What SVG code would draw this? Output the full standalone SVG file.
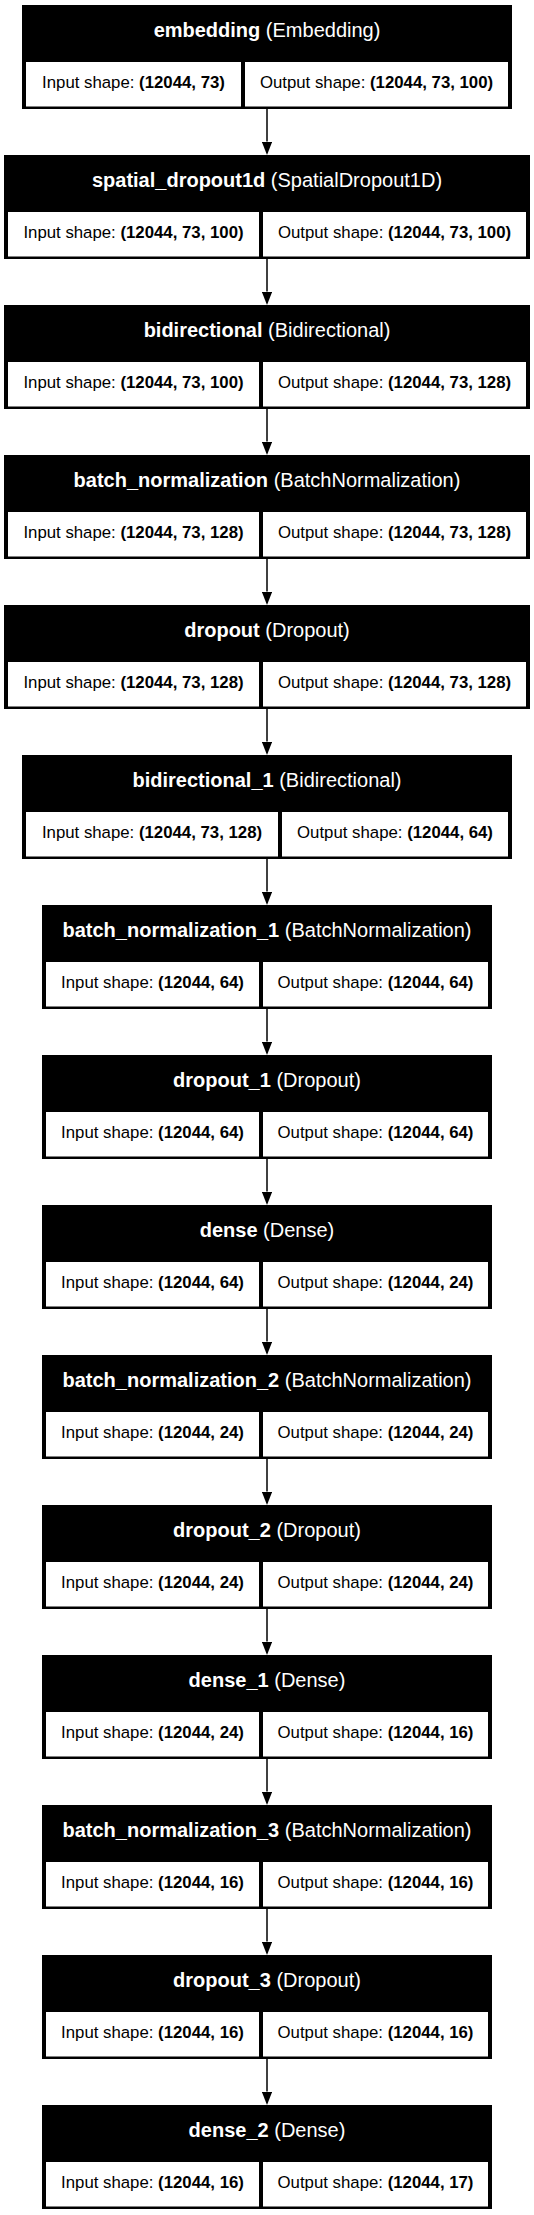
<svg xmlns="http://www.w3.org/2000/svg" width="534" height="2215" viewBox="0 0 534 2215">
<style>
.box{fill:#000}
.cell{fill:#fff}
.hd{font-family:"Liberation Sans",Arial,sans-serif;font-size:20px;fill:#fff;text-anchor:middle}
.ct{font-family:"Liberation Sans",Arial,sans-serif;font-size:16.8px;fill:#000;text-anchor:middle}
.b{font-weight:bold}
.edge{stroke:#000;stroke-width:1.5;fill:none}
</style>
<defs>
<marker id="ah" viewBox="0 0 13.5 10.5" refX="0" refY="5.25" markerWidth="13.5" markerHeight="10.5" markerUnits="userSpaceOnUse" orient="auto">
<path d="M0,0 L13.5,5.25 L0,10.5 z" fill="#000"/>
</marker>
</defs>
<g id="connectors">
<line class="edge" x1="267" y1="109" x2="267" y2="141.5" marker-end="url(#ah)"/>
<line class="edge" x1="267" y1="259" x2="267" y2="291.5" marker-end="url(#ah)"/>
<line class="edge" x1="267" y1="409" x2="267" y2="441.5" marker-end="url(#ah)"/>
<line class="edge" x1="267" y1="559" x2="267" y2="591.5" marker-end="url(#ah)"/>
<line class="edge" x1="267" y1="709" x2="267" y2="741.5" marker-end="url(#ah)"/>
<line class="edge" x1="267" y1="859" x2="267" y2="891.5" marker-end="url(#ah)"/>
<line class="edge" x1="267" y1="1009" x2="267" y2="1041.5" marker-end="url(#ah)"/>
<line class="edge" x1="267" y1="1159" x2="267" y2="1191.5" marker-end="url(#ah)"/>
<line class="edge" x1="267" y1="1309" x2="267" y2="1341.5" marker-end="url(#ah)"/>
<line class="edge" x1="267" y1="1459" x2="267" y2="1491.5" marker-end="url(#ah)"/>
<line class="edge" x1="267" y1="1609" x2="267" y2="1641.5" marker-end="url(#ah)"/>
<line class="edge" x1="267" y1="1759" x2="267" y2="1791.5" marker-end="url(#ah)"/>
<line class="edge" x1="267" y1="1909" x2="267" y2="1941.5" marker-end="url(#ah)"/>
<line class="edge" x1="267" y1="2059" x2="267" y2="2091.5" marker-end="url(#ah)"/>
</g>
<g id="embedding">
<rect class="box" x="22" y="5" width="490" height="104"/>
<text class="hd" x="267" y="36.5"><tspan class="b">embedding</tspan> (Embedding)</text>
<rect class="cell" x="26" y="62" width="215" height="44.5"/>
<rect class="cell" x="245" y="62" width="263" height="44.5"/>
<text class="ct" x="133.5" y="88">Input shape: <tspan class="b">(12044, 73)</tspan></text>
<text class="ct" x="376.5" y="88">Output shape: <tspan class="b">(12044, 73, 100)</tspan></text>
</g>
<g id="spatial_dropout1d">
<rect class="box" x="4" y="155" width="526" height="104"/>
<text class="hd" x="267" y="186.5"><tspan class="b">spatial_dropout1d</tspan> (SpatialDropout1D)</text>
<rect class="cell" x="8" y="212" width="251" height="44.5"/>
<rect class="cell" x="263" y="212" width="263" height="44.5"/>
<text class="ct" x="133.5" y="238">Input shape: <tspan class="b">(12044, 73, 100)</tspan></text>
<text class="ct" x="394.5" y="238">Output shape: <tspan class="b">(12044, 73, 100)</tspan></text>
</g>
<g id="bidirectional">
<rect class="box" x="4" y="305" width="526" height="104"/>
<text class="hd" x="267" y="336.5"><tspan class="b">bidirectional</tspan> (Bidirectional)</text>
<rect class="cell" x="8" y="362" width="251" height="44.5"/>
<rect class="cell" x="263" y="362" width="263" height="44.5"/>
<text class="ct" x="133.5" y="388">Input shape: <tspan class="b">(12044, 73, 100)</tspan></text>
<text class="ct" x="394.5" y="388">Output shape: <tspan class="b">(12044, 73, 128)</tspan></text>
</g>
<g id="batch_normalization">
<rect class="box" x="4" y="455" width="526" height="104"/>
<text class="hd" x="267" y="486.5"><tspan class="b">batch_normalization</tspan> (BatchNormalization)</text>
<rect class="cell" x="8" y="512" width="251" height="44.5"/>
<rect class="cell" x="263" y="512" width="263" height="44.5"/>
<text class="ct" x="133.5" y="538">Input shape: <tspan class="b">(12044, 73, 128)</tspan></text>
<text class="ct" x="394.5" y="538">Output shape: <tspan class="b">(12044, 73, 128)</tspan></text>
</g>
<g id="dropout">
<rect class="box" x="4" y="605" width="526" height="104"/>
<text class="hd" x="267" y="636.5"><tspan class="b">dropout</tspan> (Dropout)</text>
<rect class="cell" x="8" y="662" width="251" height="44.5"/>
<rect class="cell" x="263" y="662" width="263" height="44.5"/>
<text class="ct" x="133.5" y="688">Input shape: <tspan class="b">(12044, 73, 128)</tspan></text>
<text class="ct" x="394.5" y="688">Output shape: <tspan class="b">(12044, 73, 128)</tspan></text>
</g>
<g id="bidirectional_1">
<rect class="box" x="22" y="755" width="490" height="104"/>
<text class="hd" x="267" y="786.5"><tspan class="b">bidirectional_1</tspan> (Bidirectional)</text>
<rect class="cell" x="26" y="812" width="252" height="44.5"/>
<rect class="cell" x="282" y="812" width="226" height="44.5"/>
<text class="ct" x="152" y="838">Input shape: <tspan class="b">(12044, 73, 128)</tspan></text>
<text class="ct" x="395" y="838">Output shape: <tspan class="b">(12044, 64)</tspan></text>
</g>
<g id="batch_normalization_1">
<rect class="box" x="42" y="905" width="450" height="104"/>
<text class="hd" x="267" y="936.5"><tspan class="b">batch_normalization_1</tspan> (BatchNormalization)</text>
<rect class="cell" x="46" y="962" width="213" height="44.5"/>
<rect class="cell" x="263" y="962" width="225" height="44.5"/>
<text class="ct" x="152.5" y="988">Input shape: <tspan class="b">(12044, 64)</tspan></text>
<text class="ct" x="375.5" y="988">Output shape: <tspan class="b">(12044, 64)</tspan></text>
</g>
<g id="dropout_1">
<rect class="box" x="42" y="1055" width="450" height="104"/>
<text class="hd" x="267" y="1086.5"><tspan class="b">dropout_1</tspan> (Dropout)</text>
<rect class="cell" x="46" y="1112" width="213" height="44.5"/>
<rect class="cell" x="263" y="1112" width="225" height="44.5"/>
<text class="ct" x="152.5" y="1138">Input shape: <tspan class="b">(12044, 64)</tspan></text>
<text class="ct" x="375.5" y="1138">Output shape: <tspan class="b">(12044, 64)</tspan></text>
</g>
<g id="dense">
<rect class="box" x="42" y="1205" width="450" height="104"/>
<text class="hd" x="267" y="1236.5"><tspan class="b">dense</tspan> (Dense)</text>
<rect class="cell" x="46" y="1262" width="213" height="44.5"/>
<rect class="cell" x="263" y="1262" width="225" height="44.5"/>
<text class="ct" x="152.5" y="1288">Input shape: <tspan class="b">(12044, 64)</tspan></text>
<text class="ct" x="375.5" y="1288">Output shape: <tspan class="b">(12044, 24)</tspan></text>
</g>
<g id="batch_normalization_2">
<rect class="box" x="42" y="1355" width="450" height="104"/>
<text class="hd" x="267" y="1386.5"><tspan class="b">batch_normalization_2</tspan> (BatchNormalization)</text>
<rect class="cell" x="46" y="1412" width="213" height="44.5"/>
<rect class="cell" x="263" y="1412" width="225" height="44.5"/>
<text class="ct" x="152.5" y="1438">Input shape: <tspan class="b">(12044, 24)</tspan></text>
<text class="ct" x="375.5" y="1438">Output shape: <tspan class="b">(12044, 24)</tspan></text>
</g>
<g id="dropout_2">
<rect class="box" x="42" y="1505" width="450" height="104"/>
<text class="hd" x="267" y="1536.5"><tspan class="b">dropout_2</tspan> (Dropout)</text>
<rect class="cell" x="46" y="1562" width="213" height="44.5"/>
<rect class="cell" x="263" y="1562" width="225" height="44.5"/>
<text class="ct" x="152.5" y="1588">Input shape: <tspan class="b">(12044, 24)</tspan></text>
<text class="ct" x="375.5" y="1588">Output shape: <tspan class="b">(12044, 24)</tspan></text>
</g>
<g id="dense_1">
<rect class="box" x="42" y="1655" width="450" height="104"/>
<text class="hd" x="267" y="1686.5"><tspan class="b">dense_1</tspan> (Dense)</text>
<rect class="cell" x="46" y="1712" width="213" height="44.5"/>
<rect class="cell" x="263" y="1712" width="225" height="44.5"/>
<text class="ct" x="152.5" y="1738">Input shape: <tspan class="b">(12044, 24)</tspan></text>
<text class="ct" x="375.5" y="1738">Output shape: <tspan class="b">(12044, 16)</tspan></text>
</g>
<g id="batch_normalization_3">
<rect class="box" x="42" y="1805" width="450" height="104"/>
<text class="hd" x="267" y="1836.5"><tspan class="b">batch_normalization_3</tspan> (BatchNormalization)</text>
<rect class="cell" x="46" y="1862" width="213" height="44.5"/>
<rect class="cell" x="263" y="1862" width="225" height="44.5"/>
<text class="ct" x="152.5" y="1888">Input shape: <tspan class="b">(12044, 16)</tspan></text>
<text class="ct" x="375.5" y="1888">Output shape: <tspan class="b">(12044, 16)</tspan></text>
</g>
<g id="dropout_3">
<rect class="box" x="42" y="1955" width="450" height="104"/>
<text class="hd" x="267" y="1986.5"><tspan class="b">dropout_3</tspan> (Dropout)</text>
<rect class="cell" x="46" y="2012" width="213" height="44.5"/>
<rect class="cell" x="263" y="2012" width="225" height="44.5"/>
<text class="ct" x="152.5" y="2038">Input shape: <tspan class="b">(12044, 16)</tspan></text>
<text class="ct" x="375.5" y="2038">Output shape: <tspan class="b">(12044, 16)</tspan></text>
</g>
<g id="dense_2">
<rect class="box" x="42" y="2105" width="450" height="104"/>
<text class="hd" x="267" y="2136.5"><tspan class="b">dense_2</tspan> (Dense)</text>
<rect class="cell" x="46" y="2162" width="213" height="44.5"/>
<rect class="cell" x="263" y="2162" width="225" height="44.5"/>
<text class="ct" x="152.5" y="2188">Input shape: <tspan class="b">(12044, 16)</tspan></text>
<text class="ct" x="375.5" y="2188">Output shape: <tspan class="b">(12044, 17)</tspan></text>
</g>
</svg>
